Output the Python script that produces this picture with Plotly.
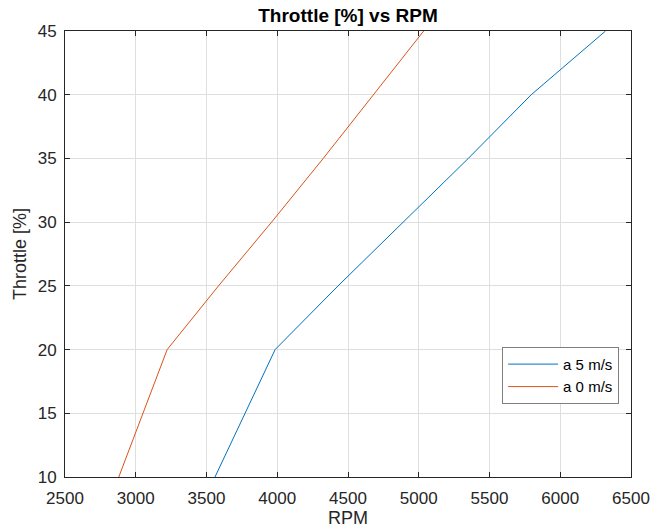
import plotly.graph_objects as go

# Throttle setting versus engine speed for two acceleration cases
throttle = [10, 20, 25, 30, 35, 40, 45]
rpm_a5 = [3560, 3985, 4430, 4890, 5350, 5795, 6320]
rpm_a0 = [2880, 3222, 3585, 3960, 4325, 4680, 5035]

x_ticks = [2500, 3000, 3500, 4000, 4500, 5000, 5500, 6000, 6500]
y_ticks = [10, 15, 20, 25, 30, 35, 40, 45]

AXIS_COLOR = "#262626"
GRID_COLOR = "#dfdfdf"
FONT = "Liberation Sans, Arial, sans-serif"

fig = go.Figure()
fig.add_trace(go.Scatter(x=rpm_a5, y=throttle, mode="lines", name="a 5 m/s",
                         line=dict(color="#0072BD", width=1.0)))
fig.add_trace(go.Scatter(x=rpm_a0, y=throttle, mode="lines", name="a 0 m/s",
                         line=dict(color="#D95319", width=1.0)))

axis_common = dict(
    showline=True, linecolor=AXIS_COLOR, linewidth=1, mirror="ticks",
    ticks="inside", ticklen=5, tickcolor=AXIS_COLOR, tickwidth=1,
    showgrid=True, gridcolor=GRID_COLOR, gridwidth=1, zeroline=False,
    automargin=False,
    tickfont=dict(family=FONT, size=17, color=AXIS_COLOR),
)

fig.update_xaxes(range=[2500, 6500], tickvals=x_ticks, ticklabelstandoff=6,
                 title=dict(text="RPM", font=dict(family=FONT, size=18, color=AXIS_COLOR), standoff=2),
                 **axis_common)
fig.update_yaxes(range=[10, 45], tickvals=y_ticks, ticklabelstandoff=4,
                 title=dict(text="Throttle [%]", font=dict(family=FONT, size=18, color=AXIS_COLOR), standoff=6),
                 **axis_common)

fig.update_layout(
    width=651, height=530,
    margin=dict(l=65, r=20, t=31, b=53),
    paper_bgcolor="white", plot_bgcolor="white",
    font=dict(family=FONT, color=AXIS_COLOR),
    title=dict(text="<b>Throttle [%] vs RPM</b>", x=(65 + 631) / 2 / 651, xanchor="center",
               y=1 - 15 / 530, yanchor="middle",
               font=dict(family=FONT, size=19, color="#000000")),
    legend=dict(x=0.979, y=0.164, xanchor="right", yanchor="bottom",
                bgcolor="white", bordercolor="#7f7f7f", borderwidth=1,
                font=dict(family=FONT, size=15, color="#000000"),
                itemwidth=50, tracegroupgap=0),
    showlegend=True,
)

fig.write_html("out.html")
